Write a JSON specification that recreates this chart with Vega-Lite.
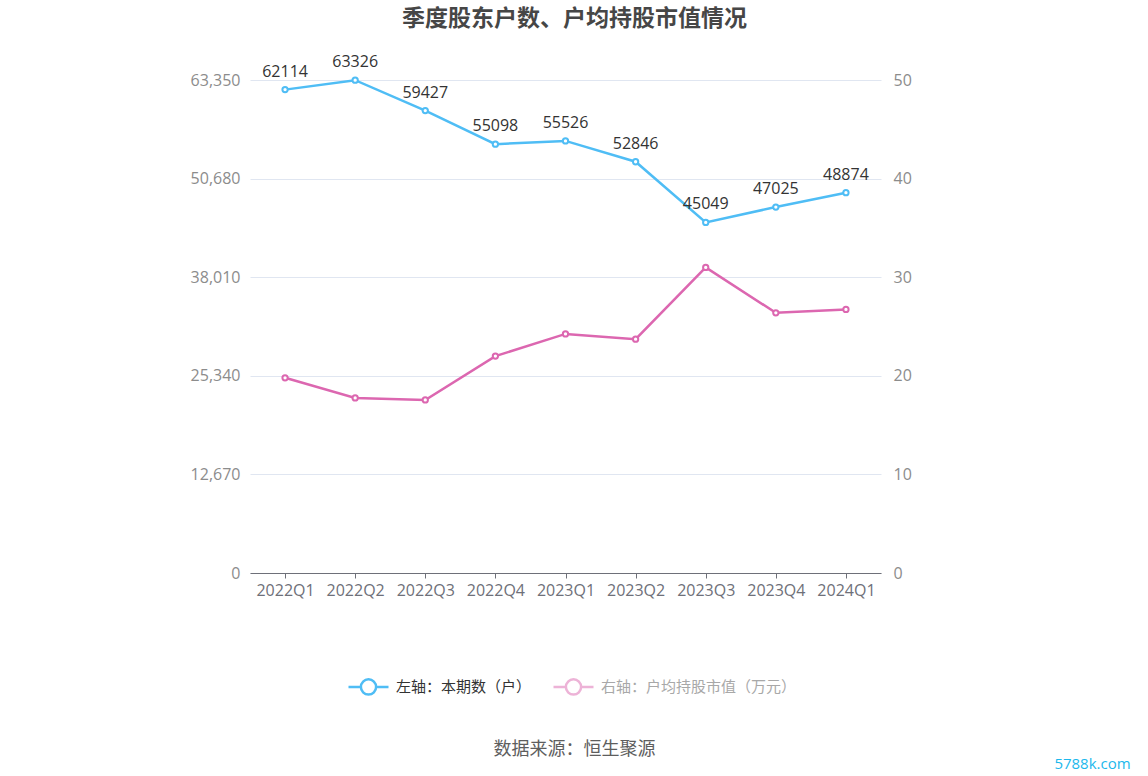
{
  "$schema": "https://vega.github.io/schema/vega-lite/v6.json",
  "autosize": {"type": "none"},
  "width": 631,
  "height": 493,
  "padding": {"left": 250, "top": 80, "right": 267, "bottom": 203},
  "background": "white",
  "config": {
    "font": "Open Sans, Noto Sans CJK SC",
    "view": {"stroke": null}
  },
  "title": {
    "text": "季度股东户数、户均持股市值情况",
    "font": "Noto Sans CJK SC",
    "fontSize": 23,
    "fontWeight": "bold",
    "color": "#464646",
    "offset": 23,
    "dx": 9,
    "anchor": "middle"
  },
  "data": {
    "values": [
      {"quarter": "2022Q1", "holders": 62114, "value": 19.80},
      {"quarter": "2022Q2", "holders": 63326, "value": 17.76},
      {"quarter": "2022Q3", "holders": 59427, "value": 17.55},
      {"quarter": "2022Q4", "holders": 55098, "value": 22.00},
      {"quarter": "2023Q1", "holders": 55526, "value": 24.25},
      {"quarter": "2023Q2", "holders": 52846, "value": 23.71},
      {"quarter": "2023Q3", "holders": 45049, "value": 30.99},
      {"quarter": "2023Q4", "holders": 47025, "value": 26.39},
      {"quarter": "2024Q1", "holders": 48874, "value": 26.73}
    ]
  },
  "encoding": {
    "x": {
      "field": "quarter",
      "type": "ordinal",
      "sort": null,
      "scale": {"type": "point", "padding": 0.5},
      "axis": {
        "title": "数据来源：恒生聚源",
        "titleFont": "Noto Sans CJK SC",
        "titleFontSize": 18,
        "titleFontWeight": "normal",
        "titleColor": "#5e5e5e",
        "titlePadding": 142,
        "titleX": 324,
        "labelAngle": 0,
        "labelFontSize": 16,
        "labelColor": "#6e7079",
        "labelPadding": 4,
        "domainColor": "#6e7079",
        "tickColor": "#6e7079",
        "tickSize": 5,
        "grid": false
      }
    }
  },
  "layer": [
    {
      "layer": [
        {
          "mark": {"type": "line", "strokeWidth": 2.5},
          "encoding": {
            "y": {
              "field": "holders",
              "type": "quantitative",
              "scale": {"domain": [0, 63350], "nice": false},
              "axis": {
                "title": null,
                "values": [0, 12670, 25340, 38010, 50680, 63350],
                "labelExpr": "format(datum.value, ',')",
                "labelFontSize": 16,
                "labelColor": "#8c8c8c",
                "labelPadding": 10,
                "domain": false,
                "ticks": false,
                "grid": true,
                "gridColor": "#e0e6f1",
                "gridWidth": 1
              }
            },
            "stroke": {
              "datum": "左轴：本期数（户）",
              "scale": {
                "domain": ["左轴：本期数（户）", "右轴：户均持股市值（万元）"],
                "range": ["#4fbdf5", "#dc67b0"]
              },
              "legend": {
                "title": null,
                "orient": "none",
                "direction": "horizontal",
                "legendX": 97,
                "legendY": 585,
                "symbolType": "M-1,0H-0.38M0.38,0H1M0.38,0A0.38,0.38,0,1,1,-0.38,0A0.38,0.38,0,1,1,0.38,0",
                "symbolSize": 1600,
                "symbolStrokeWidth": 2.5,
                "symbolFillColor": "white",
                "labelFont": "Noto Sans CJK SC",
                "labelFontSize": 15,
                "labelColor": "#333333",
                "labelLimit": 0,
                "columnPadding": 16,
                "labelOffset": 6,
                "encode": {
                  "labels": {"update": {"fill": {"signal": "datum.value === '右轴：户均持股市值（万元）' ? '#a8a8a8' : '#333333'"}}},
                  "symbols": {"update": {"strokeOpacity": {"signal": "datum.value === '右轴：户均持股市值（万元）' ? 0.5 : 1"}}}
                }
              }
            }
          }
        },
        {
          "mark": {"type": "point", "filled": true, "fill": "white", "strokeWidth": 2, "size": 28, "opacity": 1},
          "encoding": {
            "y": {"field": "holders", "type": "quantitative"},
            "stroke": {"datum": "左轴：本期数（户）"}
          }
        },
        {
          "mark": {"type": "text", "dy": -10, "baseline": "bottom", "fontSize": 16, "color": "#333333"},
          "encoding": {
            "y": {"field": "holders", "type": "quantitative"},
            "text": {"field": "holders", "type": "quantitative", "format": "d"}
          }
        }
      ]
    },
    {
      "layer": [
        {
          "mark": {"type": "line", "strokeWidth": 2.5},
          "encoding": {
            "y": {
              "field": "value",
              "type": "quantitative",
              "scale": {"domain": [0, 50], "nice": false},
              "axis": {
                "title": "5788k.com",
                "titleAngle": 0,
                "titleX": 211,
                "titleY": 683,
                "titleAlign": "center",
                "titleBaseline": "middle",
                "titleFontSize": 15,
                "titleFontWeight": "normal",
                "titleColor": "#1cb8ec",
                "values": [0, 10, 20, 30, 40, 50],
                "labelFontSize": 16,
                "labelColor": "#8c8c8c",
                "labelPadding": 12,
                "domain": false,
                "ticks": false,
                "grid": false
              }
            },
            "stroke": {"datum": "右轴：户均持股市值（万元）"}
          }
        },
        {
          "mark": {"type": "point", "filled": true, "fill": "white", "strokeWidth": 2, "size": 28, "opacity": 1},
          "encoding": {
            "y": {"field": "value", "type": "quantitative"},
            "stroke": {"datum": "右轴：户均持股市值（万元）"}
          }
        }
      ]
    }
  ],
  "resolve": {"scale": {"y": "independent"}}
}
